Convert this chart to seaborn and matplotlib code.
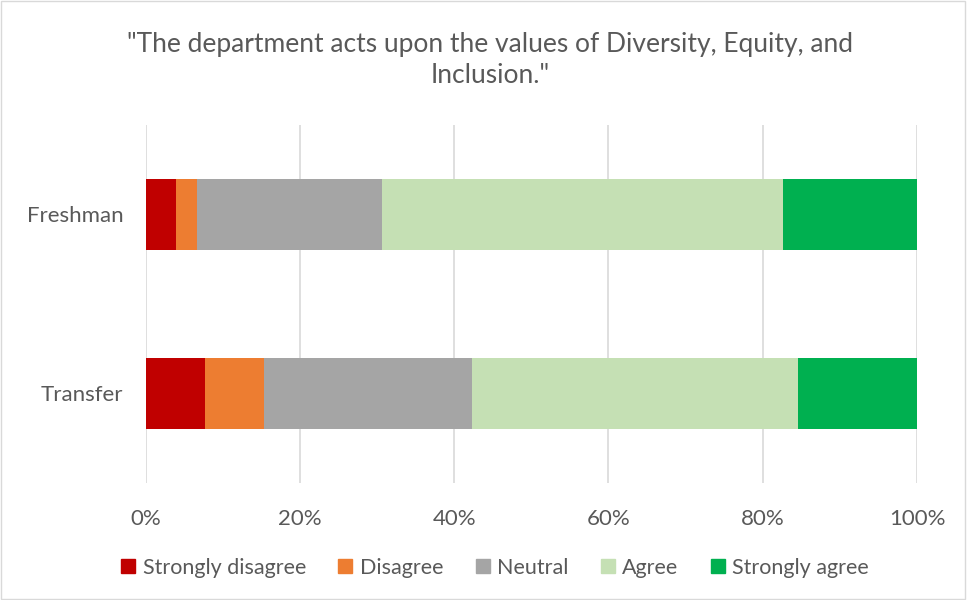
import matplotlib
matplotlib.use("Agg")
import matplotlib.pyplot as plt
import matplotlib.patches as mpatches
import numpy as np
import pandas as pd
import seaborn as sns

# Survey responses, percent of each group
groups = ["Freshman", "Transfer"]
responses = ["Strongly disagree", "Disagree", "Neutral", "Agree", "Strongly agree"]
freshman_pct = [4.0, 2.67, 24.0, 52.0, 17.33]
transfer_pct = [7.69, 7.69, 26.92, 42.31, 15.38]
colors = ["#C00000", "#ED7D31", "#A5A5A5", "#C5E0B4", "#00B050"]
tick_vals = [0, 20, 40, 60, 80, 100]
tick_labels = ["0%", "20%", "40%", "60%", "80%", "100%"]
title = "\"The department acts upon the values of Diversity, Equity, and\nInclusion.\""

sns.set_theme(style="white")
plt.rcParams["font.family"] = ["Lato", "DejaVu Sans"]
text_color = "#595959"

df = pd.DataFrame([freshman_pct, transfer_pct], index=groups, columns=responses)
cum = df.cumsum(axis=1)

fig = plt.figure(figsize=(9.67, 6.0), dpi=100)
ax = fig.add_axes([0.1505, 0.195, 0.7978, 0.597])

# Stacked bars: draw cumulative totals from the widest segment back
for resp, col in reversed(list(zip(responses, colors))):
    plot_df = pd.DataFrame({"group": groups, "value": cum[resp].values})
    sns.barplot(data=plot_df, x="value", y="group", orient="h", color=col,
                width=0.4, saturation=1, ax=ax, zorder=3, linewidth=0)

ax.set_xlim(0, 100)
ax.set_ylim(1.5, -0.5)
ax.set_xticks(tick_vals)
ax.set_xticklabels(tick_labels)
ax.set_xlabel("")
ax.set_ylabel("")
ax.grid(axis="x", color="#D9D9D9", linewidth=1.2, zorder=0)
ax.grid(axis="y", visible=False)
for s in ax.spines.values():
    s.set_visible(False)
ax.tick_params(axis="x", colors=text_color, labelsize=16, length=0, pad=19)
ax.tick_params(axis="y", colors=text_color, labelsize=16, length=0, pad=16)

fig.suptitle(title, x=0.507, y=0.947, fontsize=19, color=text_color,
             linespacing=1.3)

handles = [mpatches.Patch(color=c, label=r) for r, c in zip(responses, colors)]
fig.legend(handles=handles, loc="center", bbox_to_anchor=(0.512, 0.054),
           ncol=5, frameon=False, fontsize=15.5, labelcolor=text_color,
           handlelength=0.65, handleheight=0.65, handletextpad=0.35,
           columnspacing=1.5)

# Chart frame
fig.patches.append(mpatches.Rectangle((0.001, 0.002), 0.997, 0.996,
                                      transform=fig.transFigure, fill=False,
                                      edgecolor="#D9D9D9", linewidth=1))

fig.savefig("out.png", dpi=100)
